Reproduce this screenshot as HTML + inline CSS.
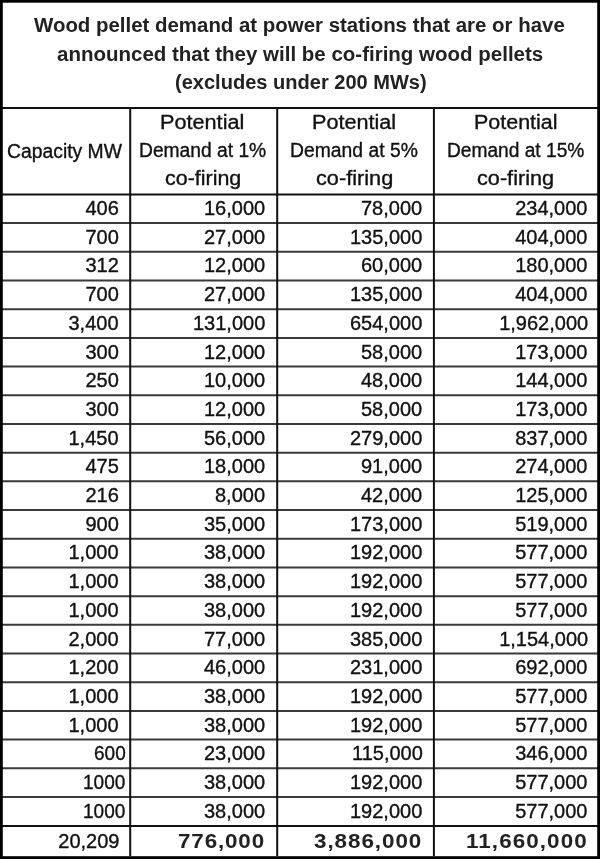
<!DOCTYPE html>
<html><head><meta charset="utf-8"><style>
html,body{margin:0;padding:0;background:#fff;}
body{width:600px;height:859px;position:relative;overflow:hidden;}
#w{position:absolute;left:0;top:0;width:600px;height:859px;filter:grayscale(100%);}
svg{position:absolute;left:0;top:0;}
.t{position:absolute;font-family:"Liberation Sans",sans-serif;font-size:20px;line-height:20px;white-space:pre;color:#111;transform-origin:0 0;-webkit-text-stroke:0.35px #111;}
.b{-webkit-text-stroke:0;color:#222 !important;}
</style></head><body><div id="w">
<svg width="600" height="859" viewBox="0 0 600 859">
<line x1="0" y1="108.0" x2="600" y2="108.0" stroke="#111" stroke-width="2.2"/>
<line x1="0" y1="194.5" x2="600" y2="194.5" stroke="#111" stroke-width="2.0"/>
<line x1="0" y1="223.09" x2="600" y2="223.09" stroke="#3a3a3a" stroke-width="2.0"/>
<line x1="0" y1="251.79" x2="600" y2="251.79" stroke="#3a3a3a" stroke-width="2.0"/>
<line x1="0" y1="280.49" x2="600" y2="280.49" stroke="#3a3a3a" stroke-width="2.0"/>
<line x1="0" y1="309.18" x2="600" y2="309.18" stroke="#3a3a3a" stroke-width="2.0"/>
<line x1="0" y1="337.88" x2="600" y2="337.88" stroke="#3a3a3a" stroke-width="2.0"/>
<line x1="0" y1="366.57" x2="600" y2="366.57" stroke="#3a3a3a" stroke-width="2.0"/>
<line x1="0" y1="395.26" x2="600" y2="395.26" stroke="#3a3a3a" stroke-width="2.0"/>
<line x1="0" y1="423.96" x2="600" y2="423.96" stroke="#3a3a3a" stroke-width="2.0"/>
<line x1="0" y1="452.65" x2="600" y2="452.65" stroke="#3a3a3a" stroke-width="2.0"/>
<line x1="0" y1="481.35" x2="600" y2="481.35" stroke="#3a3a3a" stroke-width="2.0"/>
<line x1="0" y1="510.04" x2="600" y2="510.04" stroke="#3a3a3a" stroke-width="2.0"/>
<line x1="0" y1="538.74" x2="600" y2="538.74" stroke="#3a3a3a" stroke-width="2.0"/>
<line x1="0" y1="567.44" x2="600" y2="567.44" stroke="#3a3a3a" stroke-width="2.0"/>
<line x1="0" y1="596.13" x2="600" y2="596.13" stroke="#3a3a3a" stroke-width="2.0"/>
<line x1="0" y1="624.83" x2="600" y2="624.83" stroke="#3a3a3a" stroke-width="2.0"/>
<line x1="0" y1="653.52" x2="600" y2="653.52" stroke="#3a3a3a" stroke-width="2.0"/>
<line x1="0" y1="682.22" x2="600" y2="682.22" stroke="#3a3a3a" stroke-width="2.0"/>
<line x1="0" y1="710.91" x2="600" y2="710.91" stroke="#3a3a3a" stroke-width="2.0"/>
<line x1="0" y1="739.61" x2="600" y2="739.61" stroke="#3a3a3a" stroke-width="2.0"/>
<line x1="0" y1="768.3" x2="600" y2="768.3" stroke="#3a3a3a" stroke-width="2.0"/>
<line x1="0" y1="797.0" x2="600" y2="797.0" stroke="#3a3a3a" stroke-width="2.0"/>
<line x1="0" y1="826.0" x2="600" y2="826.0" stroke="#111" stroke-width="2.2"/>
<line x1="130.2" y1="108" x2="130.2" y2="856" stroke="#111" stroke-width="2.0"/>
<line x1="277.2" y1="108" x2="277.2" y2="856" stroke="#111" stroke-width="2.0"/>
<line x1="433.9" y1="108" x2="433.9" y2="856" stroke="#111" stroke-width="2.0"/>
<rect x="1.4" y="1.3" width="597.2" height="856.3" fill="none" stroke="#000" stroke-width="2.8"/>
</svg>
<div class="t b" style="left:34.20px;top:15.00px;font-weight:700;color:#000;transform:scaleX(1.0212);">Wood pellet demand at power stations that are or have</div>
<div class="t b" style="left:57.28px;top:43.80px;font-weight:700;color:#000;transform:scaleX(1.0247);">announced that they will be co-firing wood pellets</div>
<div class="t b" style="left:174.50px;top:72.00px;font-weight:700;color:#000;transform:scaleX(1.0020);">(excludes under 200 MWs)</div>
<div class="t" style="left:7.43px;top:140.80px;transform:scaleX(0.9669);">Capacity MW</div>
<div class="t" style="left:160.33px;top:111.50px;transform:scaleX(1.0833);">Potential</div>
<div class="t" style="left:139.33px;top:139.75px;transform:scaleX(0.9615);">Demand at 1%</div>
<div class="t" style="left:164.93px;top:167.60px;transform:scaleX(1.0725);">co-firing</div>
<div class="t" style="left:312.24px;top:111.50px;transform:scaleX(1.0813);">Potential</div>
<div class="t" style="left:290.37px;top:139.75px;transform:scaleX(0.9662);">Demand at 5%</div>
<div class="t" style="left:316.41px;top:167.60px;transform:scaleX(1.0855);">co-firing</div>
<div class="t" style="left:473.85px;top:111.50px;transform:scaleX(1.0733);">Potential</div>
<div class="t" style="left:446.59px;top:139.75px;transform:scaleX(0.9574);">Demand at 15%</div>
<div class="t" style="left:477.12px;top:167.60px;transform:scaleX(1.0841);">co-firing</div>
<div class="t" style="left:85.50px;top:198.00px;">406</div>
<div class="t" style="left:204.00px;top:198.00px;">16,000</div>
<div class="t" style="left:361.00px;top:198.00px;">78,000</div>
<div class="t" style="left:515.20px;top:198.00px;">234,000</div>
<div class="t" style="left:85.50px;top:226.70px;">700</div>
<div class="t" style="left:204.00px;top:226.70px;">27,000</div>
<div class="t" style="left:350.00px;top:226.70px;">135,000</div>
<div class="t" style="left:515.20px;top:226.70px;">404,000</div>
<div class="t" style="left:85.50px;top:255.40px;">312</div>
<div class="t" style="left:204.00px;top:255.40px;">12,000</div>
<div class="t" style="left:361.00px;top:255.40px;">60,000</div>
<div class="t" style="left:515.20px;top:255.40px;">180,000</div>
<div class="t" style="left:85.50px;top:284.10px;">700</div>
<div class="t" style="left:204.00px;top:284.10px;">27,000</div>
<div class="t" style="left:350.00px;top:284.10px;">135,000</div>
<div class="t" style="left:515.20px;top:284.10px;">404,000</div>
<div class="t" style="left:68.50px;top:312.80px;">3,400</div>
<div class="t" style="left:193.00px;top:312.80px;">131,000</div>
<div class="t" style="left:350.00px;top:312.80px;">654,000</div>
<div class="t" style="left:499.20px;top:312.80px;">1,962,000</div>
<div class="t" style="left:85.50px;top:341.50px;">300</div>
<div class="t" style="left:204.00px;top:341.50px;">12,000</div>
<div class="t" style="left:361.00px;top:341.50px;">58,000</div>
<div class="t" style="left:515.20px;top:341.50px;">173,000</div>
<div class="t" style="left:85.50px;top:370.20px;">250</div>
<div class="t" style="left:204.00px;top:370.20px;">10,000</div>
<div class="t" style="left:361.00px;top:370.20px;">48,000</div>
<div class="t" style="left:515.20px;top:370.20px;">144,000</div>
<div class="t" style="left:85.50px;top:398.90px;">300</div>
<div class="t" style="left:204.00px;top:398.90px;">12,000</div>
<div class="t" style="left:361.00px;top:398.90px;">58,000</div>
<div class="t" style="left:515.20px;top:398.90px;">173,000</div>
<div class="t" style="left:68.50px;top:427.60px;">1,450</div>
<div class="t" style="left:204.00px;top:427.60px;">56,000</div>
<div class="t" style="left:350.00px;top:427.60px;">279,000</div>
<div class="t" style="left:515.20px;top:427.60px;">837,000</div>
<div class="t" style="left:85.50px;top:456.30px;">475</div>
<div class="t" style="left:204.00px;top:456.30px;">18,000</div>
<div class="t" style="left:361.00px;top:456.30px;">91,000</div>
<div class="t" style="left:515.20px;top:456.30px;">274,000</div>
<div class="t" style="left:85.50px;top:485.00px;">216</div>
<div class="t" style="left:215.00px;top:485.00px;">8,000</div>
<div class="t" style="left:361.00px;top:485.00px;">42,000</div>
<div class="t" style="left:515.20px;top:485.00px;">125,000</div>
<div class="t" style="left:85.50px;top:513.70px;">900</div>
<div class="t" style="left:204.00px;top:513.70px;">35,000</div>
<div class="t" style="left:350.00px;top:513.70px;">173,000</div>
<div class="t" style="left:515.20px;top:513.70px;">519,000</div>
<div class="t" style="left:68.50px;top:542.40px;">1,000</div>
<div class="t" style="left:204.00px;top:542.40px;">38,000</div>
<div class="t" style="left:350.00px;top:542.40px;">192,000</div>
<div class="t" style="left:515.20px;top:542.40px;">577,000</div>
<div class="t" style="left:68.50px;top:571.10px;">1,000</div>
<div class="t" style="left:204.00px;top:571.10px;">38,000</div>
<div class="t" style="left:350.00px;top:571.10px;">192,000</div>
<div class="t" style="left:515.20px;top:571.10px;">577,000</div>
<div class="t" style="left:68.50px;top:599.80px;">1,000</div>
<div class="t" style="left:204.00px;top:599.80px;">38,000</div>
<div class="t" style="left:350.00px;top:599.80px;">192,000</div>
<div class="t" style="left:515.20px;top:599.80px;">577,000</div>
<div class="t" style="left:68.50px;top:628.50px;">2,000</div>
<div class="t" style="left:204.00px;top:628.50px;">77,000</div>
<div class="t" style="left:350.00px;top:628.50px;">385,000</div>
<div class="t" style="left:499.20px;top:628.50px;">1,154,000</div>
<div class="t" style="left:68.50px;top:657.20px;">1,200</div>
<div class="t" style="left:204.00px;top:657.20px;">46,000</div>
<div class="t" style="left:350.00px;top:657.20px;">231,000</div>
<div class="t" style="left:515.20px;top:657.20px;">692,000</div>
<div class="t" style="left:68.50px;top:685.90px;">1,000</div>
<div class="t" style="left:204.00px;top:685.90px;">38,000</div>
<div class="t" style="left:350.00px;top:685.90px;">192,000</div>
<div class="t" style="left:515.20px;top:685.90px;">577,000</div>
<div class="t" style="left:68.50px;top:714.60px;">1,000</div>
<div class="t" style="left:204.00px;top:714.60px;">38,000</div>
<div class="t" style="left:350.00px;top:714.60px;">192,000</div>
<div class="t" style="left:515.20px;top:714.60px;">577,000</div>
<div class="t" style="left:93.85px;top:743.30px;transform:scaleX(0.9500);">600</div>
<div class="t" style="left:204.00px;top:743.30px;">23,000</div>
<div class="t" style="left:352.00px;top:743.30px;">115,000</div>
<div class="t" style="left:515.20px;top:743.30px;">346,000</div>
<div class="t" style="left:83.40px;top:772.00px;transform:scaleX(0.9500);">1000</div>
<div class="t" style="left:204.00px;top:772.00px;">38,000</div>
<div class="t" style="left:350.00px;top:772.00px;">192,000</div>
<div class="t" style="left:515.20px;top:772.00px;">577,000</div>
<div class="t" style="left:83.40px;top:800.70px;transform:scaleX(0.9500);">1000</div>
<div class="t" style="left:204.00px;top:800.70px;">38,000</div>
<div class="t" style="left:350.00px;top:800.70px;">192,000</div>
<div class="t" style="left:515.20px;top:800.70px;">577,000</div>
<div class="t" style="left:58.30px;top:830.50px;">20,209</div>
<div class="t b" style="left:177.68px;top:830.50px;font-weight:700;color:#000;transform:scaleX(1.1200);letter-spacing:0.771px;">776,000</div>
<div class="t b" style="left:314.00px;top:830.50px;font-weight:700;color:#000;transform:scaleX(1.1200);letter-spacing:0.853px;">3,886,000</div>
<div class="t b" style="left:465.98px;top:830.50px;font-weight:700;color:#000;transform:scaleX(1.1200);letter-spacing:0.968px;">11,660,000</div>
</div></body></html>
